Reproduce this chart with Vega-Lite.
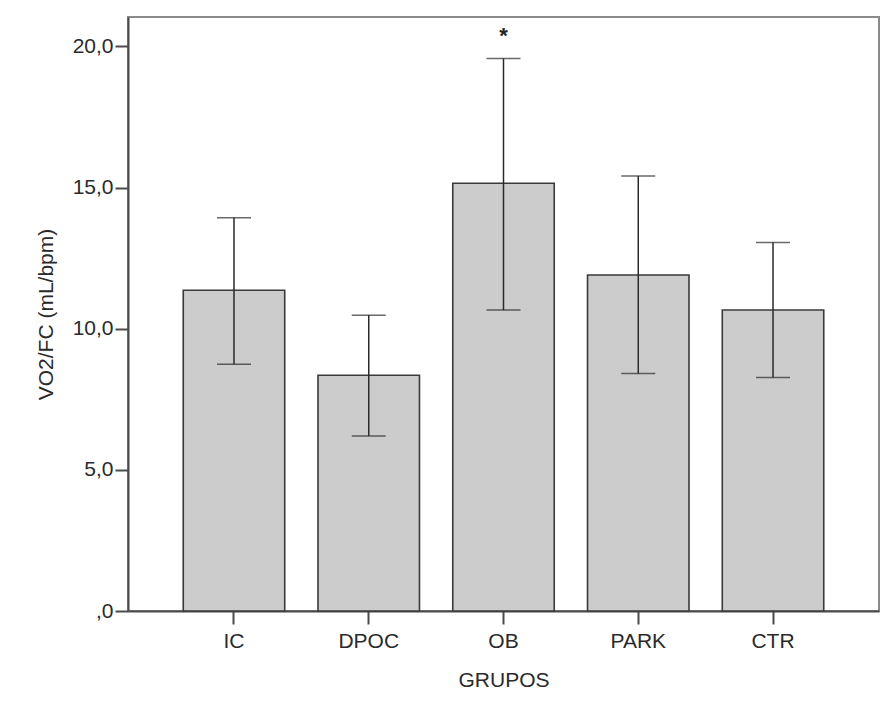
{
  "$schema": "https://vega.github.io/schema/vega-lite/v6.json",
  "autosize": "none",
  "padding": {"left": 128, "top": 17, "right": 2, "bottom": 97},
  "width": 751,
  "height": 594,
  "background": "white",
  "config": {
    "font": "Liberation Sans",
    "view": {"stroke": "#8a8a8a", "strokeWidth": 2},
    "axis": {
      "labelFont": "Liberation Sans",
      "titleFont": "Liberation Sans",
      "labelFontSize": 21,
      "titleFontSize": 21,
      "labelColor": "#2a2a2a",
      "titleColor": "#2a2a2a",
      "titleFontWeight": "normal",
      "domainColor": "#4a4a4a",
      "domainWidth": 2,
      "tickColor": "#4a4a4a",
      "tickWidth": 2,
      "tickSize": 13,
      "grid": false
    }
  },
  "data": {
    "values": [
      {"grupo": "IC", "media": 11.36, "inf": 8.74, "sup": 13.93, "sig": ""},
      {"grupo": "DPOC", "media": 8.35, "inf": 6.20, "sup": 10.48, "sig": ""},
      {"grupo": "OB", "media": 15.15, "inf": 10.66, "sup": 19.57, "sig": "*"},
      {"grupo": "PARK", "media": 11.90, "inf": 8.41, "sup": 15.41, "sig": ""},
      {"grupo": "CTR", "media": 10.66, "inf": 8.27, "sup": 13.05, "sig": ""}
    ]
  },
  "encoding": {
    "x": {
      "field": "grupo",
      "type": "nominal",
      "sort": ["IC", "DPOC", "OB", "PARK", "CTR"],
      "scale": {"paddingInner": 0.247, "paddingOuter": 0.41},
      "axis": {"title": "GRUPOS", "labelAngle": 0, "labelPadding": 6, "titlePadding": 18}
    }
  },
  "layer": [
    {
      "mark": {"type": "bar", "fill": "#cccccc", "stroke": "#3a3a3a", "strokeWidth": 1.6},
      "encoding": {
        "y": {
          "field": "media",
          "type": "quantitative",
          "scale": {"domain": [0, 21.04], "nice": false},
          "axis": {
            "title": "VO2/FC (mL/bpm)",
            "values": [0, 5, 10, 15, 20],
            "labelExpr": "datum.value == 0 ? ',0' : replace(format(datum.value, '.1f'), '.', ',')",
            "labelPadding": 2,
            "titlePadding": 16
          }
        }
      }
    },
    {
      "mark": {"type": "rule", "color": "#2a2a2a", "strokeWidth": 1.5},
      "encoding": {
        "y": {"field": "inf", "type": "quantitative"},
        "y2": {"field": "sup"}
      }
    },
    {
      "mark": {"type": "tick", "color": "#2a2a2a", "thickness": 1.5, "size": 34, "orient": "horizontal"},
      "encoding": {"y": {"field": "inf", "type": "quantitative"}}
    },
    {
      "mark": {"type": "tick", "color": "#2a2a2a", "thickness": 1.5, "size": 34, "orient": "horizontal"},
      "encoding": {"y": {"field": "sup", "type": "quantitative"}}
    },
    {
      "mark": {"type": "text", "fontSize": 22, "fontWeight": "bold", "color": "#222222", "baseline": "alphabetic", "dy": -16},
      "encoding": {
        "y": {"field": "sup", "type": "quantitative"},
        "text": {"field": "sig"}
      }
    }
  ]
}
